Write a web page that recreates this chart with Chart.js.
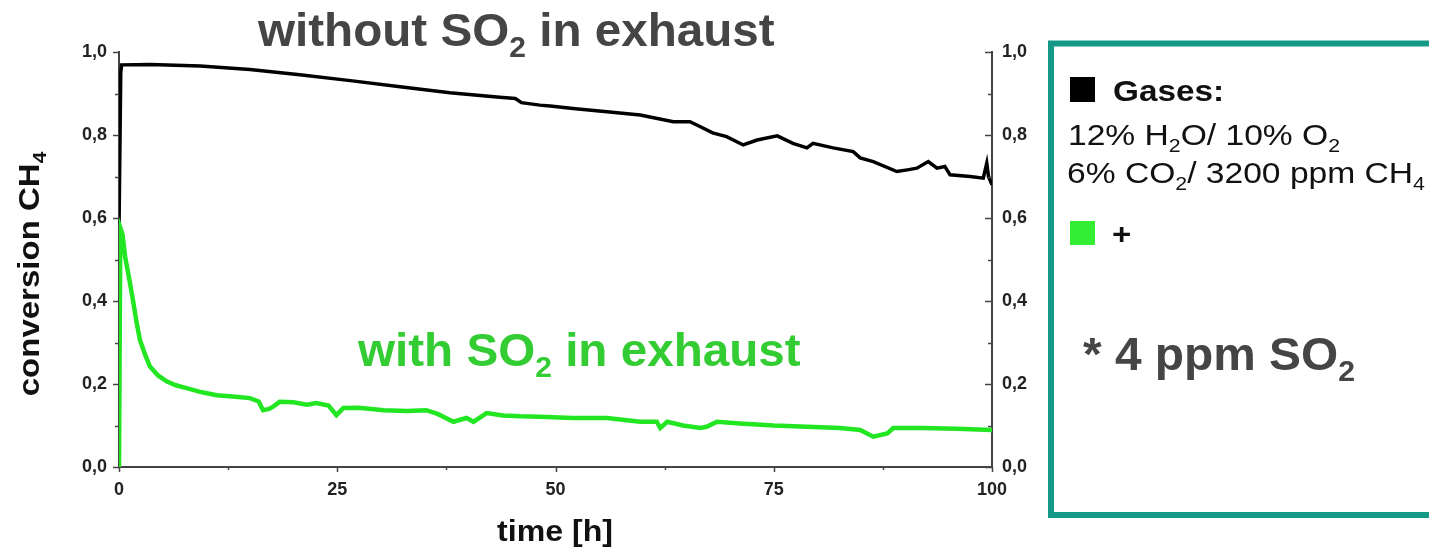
<!DOCTYPE html>
<html>
<head>
<meta charset="utf-8">
<script src="https://cdn.jsdelivr.net/npm/chart.js@4/dist/chart.umd.min.js"></script>
<style>
    body { margin: 0; background: #fff; }
    #wrap { width: 1429px; height: 547px; }
</style>
</head>
<body>
<div id="wrap"><canvas id="chart" width="1429" height="547"></canvas></div>
<script>
// time [h] and CH4 conversion, without SO2 (black)
const timeNoSO2 = [0, 0.2, 0.3, 3.6, 9.3, 15.0, 20.7, 26.5, 32.2, 37.9, 43.6, 45.4, 46.1, 48.2, 49.4, 52.0, 55.9, 59.7,
    63.5, 65.4, 66.6, 68.0, 69.6, 71.5, 73.1, 75.4, 77.2, 78.8, 79.5, 81.8, 84.1, 84.9, 86.4, 89.1, 90.3, 91.4, 92.7,
    93.7, 94.6, 95.2, 97.5, 99.0, 99.4, 99.6, 100];
const convNoSO2 = [0.57, 0.95, 0.969, 0.970, 0.966, 0.958, 0.945, 0.931, 0.916, 0.902, 0.891, 0.888, 0.878, 0.872, 0.870,
    0.864, 0.856, 0.848, 0.832, 0.832, 0.820, 0.805, 0.796, 0.776, 0.788, 0.798, 0.780, 0.769, 0.780, 0.769, 0.760, 0.745,
    0.736, 0.712, 0.716, 0.720, 0.736, 0.720, 0.724, 0.704, 0.700, 0.696, 0.732, 0.700, 0.680];

// with 4 ppm SO2 (green)
const timeSO2 = [0, 0.15, 0.4, 0.7, 1.2, 1.6, 2.0, 2.4, 3.0, 3.55, 4.5, 5.5, 6.5, 7.75, 9.5, 11.2, 13, 15, 16, 16.5, 17.2,
    17.7, 18.4, 20, 21.5, 22.6, 24, 24.9, 25.7, 27.5, 30.3, 33, 35.2, 36.5, 38.3, 39.8, 40.6, 42.1, 44, 46, 48.2, 52,
    55.9, 59.7, 61.6, 62, 62.8, 64.6, 66.6, 67.3, 68.5, 71.1, 75, 78.8, 82.6, 84.9, 86.4, 88, 88.7, 92.1, 96, 100];
const convSO2 = [0.0, 0.576, 0.56, 0.507, 0.45, 0.402, 0.35, 0.306, 0.27, 0.242, 0.22, 0.206, 0.197, 0.190, 0.180, 0.173,
    0.170, 0.166, 0.158, 0.137, 0.140, 0.146, 0.157, 0.156, 0.150, 0.154, 0.148, 0.125, 0.142, 0.143, 0.137, 0.135, 0.137,
    0.128, 0.109, 0.118, 0.109, 0.130, 0.124, 0.122, 0.121, 0.118, 0.118, 0.109, 0.109, 0.094, 0.109, 0.100, 0.094, 0.097,
    0.109, 0.105, 0.100, 0.097, 0.094, 0.089, 0.073, 0.081, 0.094, 0.094, 0.092, 0.089];

const xTicks = [0, 25, 50, 75, 100];
const yTicks = [0, 0.2, 0.4, 0.6, 0.8, 1.0];
const yTickLabels = ["0,0", "0,2", "0,4", "0,6", "0,8", "1,0"];

const FONT = "\"Liberation Sans\", Arial, sans-serif";

function toPoints(xs, ys) {
    return xs.map((x, i) => ({ x: x, y: ys[i] }));
}

// draw text made of normal and subscript pieces, optionally stretched in width
function richText(ctx, parts, x, y, size, weight, color, align, stretch) {
    const sx = stretch || 1;
    const main = weight + " " + size + "px " + FONT;
    const small = weight + " " + Math.round(size * 0.62) + "px " + FONT;
    let width = 0;
    parts.forEach(p => {
        ctx.font = p[1] ? small : main;
        width += ctx.measureText(p[0]).width;
    });
    ctx.save();
    ctx.translate(x, y);
    ctx.scale(sx, 1);
    let cx = align === "center" ? -width / 2 : 0;
    ctx.fillStyle = color;
    ctx.textAlign = "left";
    ctx.textBaseline = "alphabetic";
    parts.forEach(p => {
        ctx.font = p[1] ? small : main;
        ctx.fillText(p[0], cx, p[1] ? size * 0.24 : 0);
        cx += ctx.measureText(p[0]).width;
    });
    ctx.restore();
}

const decorations = {
    id: "decorations",
    afterDraw(chart) {
        const ctx = chart.ctx;
        const area = chart.chartArea;
        const xs = chart.scales.x;
        const ys = chart.scales.y;
        ctx.save();

        // minor + major ticks
        ctx.strokeStyle = "#444";
        ctx.lineWidth = 1.5;
        ctx.beginPath();
        for (let i = 0; i <= 10; i++) {
            const py = Math.round(ys.getPixelForValue(i / 10)) + 0.5;
            const major = i % 2 === 0;
            ctx.moveTo(area.left - (major ? 6 : 4), py);
            ctx.lineTo(area.left, py);
            ctx.moveTo(area.right - (major ? 7 : 4), py);
            ctx.lineTo(area.right, py);
        }
        for (let i = 0; i <= 8; i++) {
            const px = Math.round(xs.getPixelForValue(i * 12.5)) + 0.5;
            ctx.moveTo(px, area.bottom);
            ctx.lineTo(px, area.bottom + (i % 2 === 0 ? 5 : 3));
        }
        ctx.stroke();

        // in-plot labels
        richText(ctx, [["without SO", false], ["2", true], [" in exhaust", false]], 258, 46, 46, "bold", "#454545", "left", 1.035);
        richText(ctx, [["with SO", false], ["2", true], [" in exhaust", false]], 358, 366, 46, "bold", "#33cc33", "left", 1.035);

        // axis titles
        richText(ctx, [["time [h]", false]], 555, 541, 30, "bold", "#111", "center", 1.07);
        ctx.save();
        ctx.translate(39, 274);
        ctx.rotate(-Math.PI / 2);
        richText(ctx, [["conversion CH", false], ["4", true]], 0, 0, 30, "bold", "#111", "center", 1.1);
        ctx.restore();

        // info box on the right
        ctx.strokeStyle = "#139986";
        ctx.lineWidth = 6;
        ctx.strokeRect(1051, 43.5, 420, 471.5);
        ctx.fillStyle = "#000";
        ctx.fillRect(1070, 77, 25, 25);
        richText(ctx, [["Gases:", false]], 1113, 101, 30, "bold", "#111", "left", 1.11);
        richText(ctx, [["12% H", false], ["2", true], ["O/ 10% O", false], ["2", true]], 1068, 145, 30, "normal", "#111", "left", 1.12);
        richText(ctx, [["6% CO", false], ["2", true], ["/ 3200 ppm CH", false], ["4", true]], 1067, 183, 30, "normal", "#111", "left", 1.12);
        ctx.fillStyle = "#33ee33";
        ctx.fillRect(1070, 221, 25, 24);
        richText(ctx, [["+", false]], 1112, 244, 30, "bold", "#111", "left", 1.1);
        richText(ctx, [["* 4 ppm SO", false], ["2", true]], 1083, 370, 46, "bold", "#454545", "left", 1.04);

        ctx.restore();
    }
};

const tickFont = { family: FONT, size: 18, weight: "bold" };

function yLabel(value) {
    const idx = yTicks.findIndex(t => Math.abs(t - value) < 1e-6);
    return idx >= 0 ? yTickLabels[idx] : "";
}

new Chart(document.getElementById("chart"), {
    type: "line",
    data: {
        datasets: [{
            label: "with SO2",
            data: toPoints(timeSO2, convSO2),
            borderColor: "#22e622",
            borderWidth: 4.5,
            pointRadius: 0,
            tension: 0,
            order: 0
        },
        {
            label: "without SO2",
            data: toPoints(timeNoSO2, convNoSO2),
            borderColor: "#000",
            borderWidth: 3.5,
            pointRadius: 0,
            tension: 0,
            order: 1
        }]
    },
    options: {
        responsive: false,
        animation: false,
        layout: { padding: { top: 52, right: 389, left: 0, bottom: 0 } },
        plugins: {
            legend: { display: false },
            tooltip: { enabled: false }
        },
        scales: {
            x: {
                type: "linear",
                min: 0,
                max: 100,
                afterBuildTicks: scale => { scale.ticks = xTicks.map(v => ({ value: v })); },
                afterFit: scale => { scale.height = 80; },
                ticks: { font: tickFont, color: "#222", padding: 12, maxRotation: 0 },
                grid: { drawOnChartArea: false, drawTicks: false },
                border: { color: "#444", width: 2 }
            },
            y: {
                position: "left",
                min: 0,
                max: 1,
                afterBuildTicks: scale => { scale.ticks = yTicks.map(v => ({ value: v })); },
                afterFit: scale => { scale.width = 119; },
                ticks: { font: tickFont, color: "#222", padding: 12, callback: yLabel },
                grid: { drawOnChartArea: false, drawTicks: false },
                border: { color: "#444", width: 2 }
            },
            y2: {
                position: "right",
                min: 0,
                max: 1,
                afterBuildTicks: scale => { scale.ticks = yTicks.map(v => ({ value: v })); },
                afterFit: scale => { scale.width = 48; },
                ticks: { font: tickFont, color: "#222", padding: 10, callback: yLabel },
                grid: { drawOnChartArea: false, drawTicks: false },
                border: { color: "#444", width: 2 }
            }
        }
    },
    plugins: [decorations]
});
</script>
</body>
</html>
